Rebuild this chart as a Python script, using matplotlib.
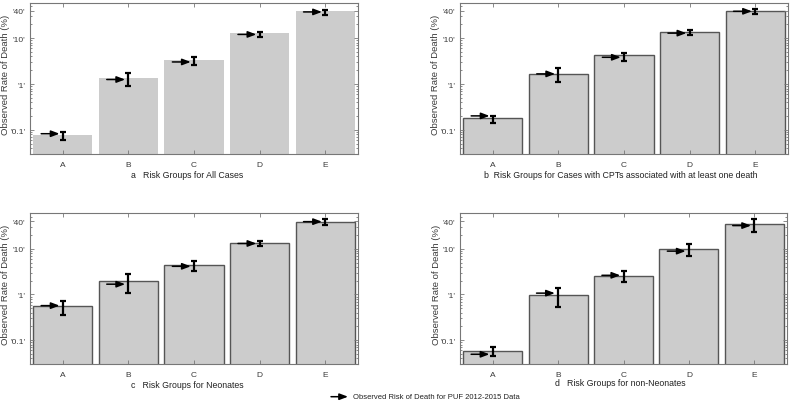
import matplotlib
matplotlib.use("Agg")
import matplotlib.pyplot as plt
import numpy as np

plt.rcParams['font.family'] = ['Liberation Sans', 'DejaVu Sans']

groups = ['A', 'B', 'C', 'D', 'E']

# Panel a: All cases
a_bars = [0.079, 1.37, 3.3, 12.7, 38.6]
a_obs = [0.083, 1.26, 3.04, 12.1, 37.4]
a_lo = [0.062, 0.89, 2.67, 10.7, 32.7]
a_hi = [0.090, 1.79, 3.84, 13.8, 41.9]

# Panel b: CPTs associated with at least one death
b_bars = [0.184, 1.70, 4.24, 13.6, 39.4]
b_obs = [0.203, 1.67, 3.84, 12.9, 38.6]
b_lo = [0.145, 1.12, 3.26, 11.5, 34.4]
b_hi = [0.206, 2.22, 4.85, 14.8, 44.2]

# Panel c: Neonates
c_bars = [0.548, 2.02, 4.42, 13.5, 39.4]
c_obs = [0.57, 1.68, 4.14, 13.1, 39.4]
c_lo = [0.35, 1.10, 3.3, 11.3, 33.1]
c_hi = [0.705, 2.86, 5.4, 15.2, 44.9]

# Panel d: non-Neonates
d_bars = [0.058, 0.95, 2.55, 9.85, 34.4]
d_obs = [0.049, 1.07, 2.63, 8.9, 32.3]
d_lo = [0.046, 0.53, 1.89, 6.84, 23.9]
d_hi = [0.072, 1.42, 3.27, 12.6, 44.3]

ytick_vals = [0.1, 1, 10, 40]
ytick_labels = ["'0.1'", "'1'", "'10'", "'40'"]

subtitles = ['a   Risk Groups for All Cases',
             'b  Risk Groups for Cases with CPTs associated with at least one death',
             'c   Risk Groups for Neonates',
             'd   Risk Groups for non-Neonates']

legend_text = 'Observed Risk of Death for PUF 2012-2015 Data'

W, H = 790, 406
fig = plt.figure(figsize=(W / 100, H / 100), dpi=100)

def rect(x0, x1, y0, y1):
    return [x0 / W, 1 - y1 / H, (x1 - x0) / W, (y1 - y0) / H]

rects = [rect(30, 358, 3.5, 155), rect(460, 788, 3.5, 155),
         rect(30, 358, 214.3, 365), rect(460, 787, 214.3, 365)]
sub_y = [-0.134, -0.134, -0.139, -0.124]
sub_x = [0.48, 0.49, 0.48, 0.49]

data = [(a_bars, a_obs, a_lo, a_hi), (b_bars, b_obs, b_lo, b_hi),
        (c_bars, c_obs, c_lo, c_hi), (d_bars, d_obs, d_lo, d_hi)]

spine_col = '#777777'
text_col = '#3a3a3a'
arrow_style = '-|>,head_length=0.5,head_width=0.19'

for i, (r, (bars, obs, lo, hi)) in enumerate(zip(rects, data)):
    ax = fig.add_axes(r)
    x = np.arange(len(groups))
    ec = 'none' if i == 0 else '#555555'
    ax.bar(x, bars, width=0.9, color='#cccccc', edgecolor=ec, linewidth=1.0, zorder=1)
    ax.set_yscale('log')
    ax.set_ylim(0.03, 60)
    ax.set_xlim(-0.5, 4.5)
    obs = np.array(obs)
    lo = np.array(lo)
    hi = np.array(hi)
    mid = np.sqrt(lo * hi)
    ax.errorbar(x, mid, yerr=[mid - lo, hi - mid], fmt='none', ecolor='black',
                elinewidth=1.6, capsize=2.2, capthick=1.6, zorder=3)
    for xi, oi in zip(x, obs):
        ax.annotate('', xy=(xi - 0.05, oi), xytext=(xi - 0.33, oi),
                    arrowprops=dict(arrowstyle=arrow_style,
                                    color='black', lw=1.1, shrinkA=0, shrinkB=0),
                    zorder=4)
    ax.set_xticks(x)
    ax.set_xticklabels(groups)
    ax.set_yticks(ytick_vals)
    ax.set_yticklabels(ytick_labels)
    ax.tick_params(axis='both', which='both', direction='in', top=True, right=True,
                   colors=spine_col, labelcolor=text_col, labelsize=6, width=0.6)
    ax.tick_params(axis='both', which='major', length=3)
    ax.tick_params(axis='y', which='minor', length=1.5)
    ax.tick_params(axis='x', pad=5)
    for s in ax.spines.values():
        s.set_color(spine_col)
        s.set_linewidth(0.8)
    ax.set_ylabel('Observed Rate of Death (%)', fontsize=6.8, color=text_col)
    ax.yaxis.set_label_coords(-19.5 / 328, 0.53)
    ax.text(sub_x[i], sub_y[i], subtitles[i], transform=ax.transAxes, ha='center',
            va='center', fontsize=6.3, color='#222222')

# Legend at bottom
fig.add_artist(matplotlib.text.Annotation(
    '', xy=(348, H - 397.7), xytext=(331, H - 397.7),
    xycoords='figure pixels', textcoords='figure pixels',
    arrowprops=dict(arrowstyle=arrow_style, color='black', lw=1.1,
                    shrinkA=0, shrinkB=0)))
fig.text(352.7 / W, 1 - 397.7 / H, legend_text, ha='left', va='center', fontsize=5.5,
         color='#222222')

fig.savefig('out.png', dpi=100)
